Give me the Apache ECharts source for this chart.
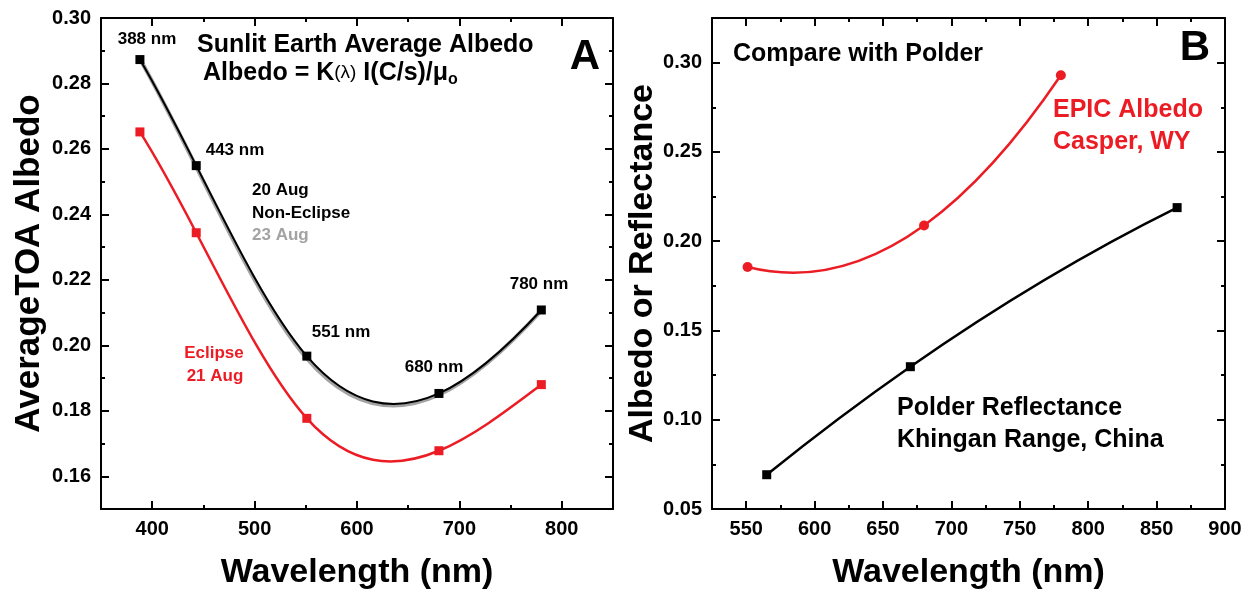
<!DOCTYPE html>
<html>
<head>
<meta charset="utf-8">
<script src="https://cdn.jsdelivr.net/npm/echarts@6/dist/echarts.min.js"></script>
<style>html,body{margin:0;padding:0;background:#fff}#c{width:1255px;height:595px}</style>
</head>
<body>
<div id="c"></div>
<script>
// ---- data ----
const waveA = [388, 443, 551, 680, 780];
const nonEclipse20Aug = [0.2873, 0.2549, 0.1967, 0.1853, 0.2108];
const nonEclipse23Aug = [0.2875, 0.2545, 0.1960, 0.1849, 0.2106];
const eclipse21Aug = [0.2652, 0.2344, 0.1777, 0.1678, 0.1880];

const waveEpic = [551, 680, 780];
const epicAlbedo = [0.1855, 0.2088, 0.2929];
const wavePolder = [565, 670, 865];
const polderReflectance = [0.0692, 0.1297, 0.2188];

const xMajorA = [400, 500, 600, 700, 800];
const xMinorA = [450, 550, 650, 750];
const yMajorA = [0.16, 0.18, 0.20, 0.22, 0.24, 0.26, 0.28, 0.30];
const yMinorA = [0.17, 0.19, 0.21, 0.23, 0.25, 0.27, 0.29];
const xMajorB = [550, 600, 650, 700, 750, 800, 850, 900];
const xMinorB = [575, 625, 675, 725, 775, 825, 875];
const yMajorB = [0.05, 0.10, 0.15, 0.20, 0.25, 0.30];
const yMinorB = [0.075, 0.125, 0.175, 0.225, 0.275];

// ---- helpers ----
const FONT = 'Liberation Sans';
const zip = (xs, ys) => xs.map((x, i) => [x, ys[i]]);

// solve small dense linear system (Gaussian elimination)
function solve(A, b) {
  const n = b.length;
  A = A.map(r => r.slice()); b = b.slice();
  for (let c = 0; c < n; c++) {
    let p = c;
    for (let r = c + 1; r < n; r++) if (Math.abs(A[r][c]) > Math.abs(A[p][c])) p = r;
    [A[c], A[p]] = [A[p], A[c]]; [b[c], b[p]] = [b[p], b[c]];
    for (let r = c + 1; r < n; r++) {
      const f = A[r][c] / A[c][c];
      for (let k = c; k < n; k++) A[r][k] -= f * A[c][k];
      b[r] -= f * b[c];
    }
  }
  const x = new Array(n).fill(0);
  for (let r = n - 1; r >= 0; r--) {
    let s = b[r];
    for (let k = r + 1; k < n; k++) s -= A[r][k] * x[k];
    x[r] = s / A[r][r];
  }
  return x;
}

// cubic spline (not-a-knot; parabola for 3 points) -> bezier segments in data space
function splineSegments(xs, ys) {
  const n = xs.length;
  const h = [], d = [];
  for (let i = 0; i < n - 1; i++) { h.push(xs[i + 1] - xs[i]); d.push((ys[i + 1] - ys[i]) / h[i]); }
  const A = [], b = [];
  for (let i = 0; i < n; i++) { A.push(new Array(n).fill(0)); b.push(0); }
  if (n === 3) {
    A[0][0] = 1; A[0][1] = -1;
    A[2][2] = 1; A[2][1] = -1;
  } else {
    A[0][0] = -h[1]; A[0][1] = h[0] + h[1]; A[0][2] = -h[0];
    A[n - 1][n - 3] = -h[n - 2]; A[n - 1][n - 2] = h[n - 2] + h[n - 3]; A[n - 1][n - 1] = -h[n - 3];
  }
  for (let i = 1; i < n - 1; i++) {
    A[i][i - 1] = h[i - 1]; A[i][i] = 2 * (h[i - 1] + h[i]); A[i][i + 1] = h[i];
    b[i] = 6 * (d[i] - d[i - 1]);
  }
  const M = solve(A, b);
  const segs = [];
  for (let i = 0; i < n - 1; i++) {
    const s0 = d[i] - h[i] * (2 * M[i] + M[i + 1]) / 6;
    const s1 = d[i] + h[i] * (M[i] + 2 * M[i + 1]) / 6;
    segs.push([
      [xs[i], ys[i]],
      [xs[i] + h[i] / 3, ys[i] + s0 * h[i] / 3],
      [xs[i + 1] - h[i] / 3, ys[i + 1] - s1 * h[i] / 3],
      [xs[i + 1], ys[i + 1]]
    ]);
  }
  return segs;
}

function curveSeries(name, xi, yi, xs, ys, color, width, z) {
  const segs = splineSegments(xs, ys);
  return {
    type: 'custom', name: name, coordinateSystem: 'cartesian2d',
    xAxisIndex: xi, yAxisIndex: yi, z: z, silent: true,
    data: [[xs[0], ys[0]]],
    renderItem: function (params, api) {
      return {
        type: 'group',
        children: segs.map(s => {
          const p0 = api.coord(s[0]), p1 = api.coord(s[1]), p2 = api.coord(s[2]), p3 = api.coord(s[3]);
          return {
            type: 'bezierCurve',
            shape: {x1: p0[0], y1: p0[1], cpx1: p1[0], cpy1: p1[1], cpx2: p2[0], cpy2: p2[1], x2: p3[0], y2: p3[1]},
            style: {stroke: color, lineWidth: width, fill: null, lineCap: 'round'}
          };
        })
      };
    }
  };
}

function markerSeries(name, xi, yi, xs, ys, color, symbol, size, z) {
  return {
    type: 'scatter', name: name, xAxisIndex: xi, yAxisIndex: yi, z: z,
    data: zip(xs, ys), symbol: symbol, symbolSize: size, itemStyle: {color: color, opacity: 1}
  };
}

function axisGroup(dim, grid, min, max, majors, minors, fmt, name, nameGap, nameSize) {
  const sides = dim === 'x' ? ['bottom', 'top'] : ['left', 'right'];
  const out = [];
  sides.forEach((pos, k) => {
    const primary = k === 0;
    out.push({
      type: 'value', gridIndex: grid, position: pos, min: min, max: max,
      splitLine: {show: false},
      axisLine: {show: true, onZero: false, lineStyle: {color: '#000', width: 2}},
      axisTick: {show: true, inside: true, length: 8, customValues: majors, lineStyle: {color: '#000', width: 2}},
      axisLabel: {show: primary, customValues: majors, formatter: fmt, margin: 10,
        color: '#000', fontFamily: FONT, fontWeight: 'bold', fontSize: 20},
      name: primary ? name : '', nameLocation: 'middle', nameGap: nameGap,
      nameTextStyle: {color: '#000', fontFamily: FONT, fontWeight: 'bold', fontSize: nameSize}
    });
    out.push({
      type: 'value', gridIndex: grid, position: pos, min: min, max: max,
      splitLine: {show: false},
      axisLine: {show: false, onZero: false},
      axisTick: {show: true, inside: true, length: 4, customValues: minors, lineStyle: {color: '#000', width: 2}},
      axisLabel: {show: false}
    });
  });
  return out;
}

const fmtInt = v => String(Math.round(v));
const fmt2 = v => v.toFixed(2);

const xAxes = [].concat(
  axisGroup('x', 0, 350, 850, xMajorA, xMinorA, fmtInt, 'Wavelength (nm)', 47, 34),
  axisGroup('x', 1, 525, 900, xMajorB, xMinorB, fmtInt, 'Wavelength (nm)', 47, 34)
);
const yAxes = [].concat(
  axisGroup('y', 0, 0.15, 0.30, yMajorA, yMinorA, fmt2, 'AverageTOA Albedo', 54, 35),
  axisGroup('y', 1, 0.05, 0.325, yMajorB, yMinorB, fmt2, 'Albedo or Reflectance', 52, 34)
);

function txt(x, y, text, opt) {
  opt = opt || {};
  return {
    type: 'text', x: x, y: y, z: 100,
    style: {
      text: text, fill: opt.color || '#000', font: 'bold ' + (opt.size || 17) + 'px "' + FONT + '"',
      textAlign: opt.align || 'center', textVerticalAlign: 'middle'
    }
  };
}

const RED = '#ec1c24';
const GRAY = '#a3a3a3';

const graphics = [
  txt(147, 39, waveA[0] + ' nm'),
  txt(235, 150, waveA[1] + ' nm'),
  txt(341, 332, waveA[2] + ' nm'),
  txt(434, 367, waveA[3] + ' nm'),
  txt(539, 284, waveA[4] + ' nm'),
  txt(252, 190, '20 Aug', {align: 'left'}),
  txt(252, 213, 'Non-Eclipse', {align: 'left'}),
  txt(252, 235, '23 Aug', {align: 'left', color: GRAY}),
  txt(214, 353, 'Eclipse', {color: RED}),
  txt(215, 376, '21 Aug', {color: RED}),
  txt(197, 45, 'Sunlit Earth Average Albedo', {align: 'left', size: 25}),
  {
    type: 'text', x: 203, y: 73, z: 100,
    style: {
      text: '{a|Albedo = K}{s|(λ)}{a| I(C/s)/μ}{o|o}',
      textAlign: 'left', textVerticalAlign: 'middle', fill: '#000',
      rich: {
        a: {fontFamily: FONT, fontWeight: 'bold', fontSize: 25, fill: '#000'},
        s: {fontFamily: FONT, fontWeight: 'normal', fontSize: 19, fill: '#000'},
        o: {fontFamily: FONT, fontWeight: 'bold', fontSize: 16, fill: '#000', padding: [14, 0, 0, 0]}
      }
    }
  },
  txt(585, 57, 'A', {size: 42}),
  txt(733, 54, 'Compare with Polder', {align: 'left', size: 25}),
  txt(1195, 48, 'B', {size: 42}),
  txt(1053, 110, 'EPIC Albedo', {align: 'left', size: 25, color: RED}),
  txt(1053, 142, 'Casper, WY', {align: 'left', size: 25, color: RED}),
  txt(897, 408, 'Polder Reflectance', {align: 'left', size: 25}),
  txt(897, 440, 'Khingan Range, China', {align: 'left', size: 25})
];

const option = {
  animation: false,
  backgroundColor: '#fff',
  grid: [
    {left: 101, right: 642, top: 18, bottom: 85, containLabel: false},
    {left: 712, right: 30, top: 18, bottom: 85, containLabel: false}
  ],
  xAxis: xAxes,
  yAxis: yAxes,
  series: [
    curveSeries('23 Aug', 0, 0, waveA, nonEclipse23Aug, GRAY, 4, 2),
    curveSeries('20 Aug', 0, 0, waveA, nonEclipse20Aug, '#000', 2, 3),
    markerSeries('20 Aug points', 0, 0, waveA, nonEclipse20Aug, '#000', 'rect', 9, 4),
    curveSeries('Eclipse 21 Aug', 0, 0, waveA, eclipse21Aug, RED, 2.5, 3),
    markerSeries('Eclipse points', 0, 0, waveA, eclipse21Aug, RED, 'rect', 9, 4),
    curveSeries('EPIC Albedo', 4, 4, waveEpic, epicAlbedo, RED, 2.5, 3),
    markerSeries('EPIC points', 4, 4, waveEpic, epicAlbedo, RED, 'circle', 10, 4),
    curveSeries('Polder Reflectance', 4, 4, wavePolder, polderReflectance, '#000', 2.5, 3),
    markerSeries('Polder points', 4, 4, wavePolder, polderReflectance, '#000', 'rect', 9, 4)
  ],
  graphic: graphics
};

const chart = echarts.init(document.getElementById('c'), null, {renderer: 'canvas'});
chart.setOption(option);
</script>
</body>
</html>
